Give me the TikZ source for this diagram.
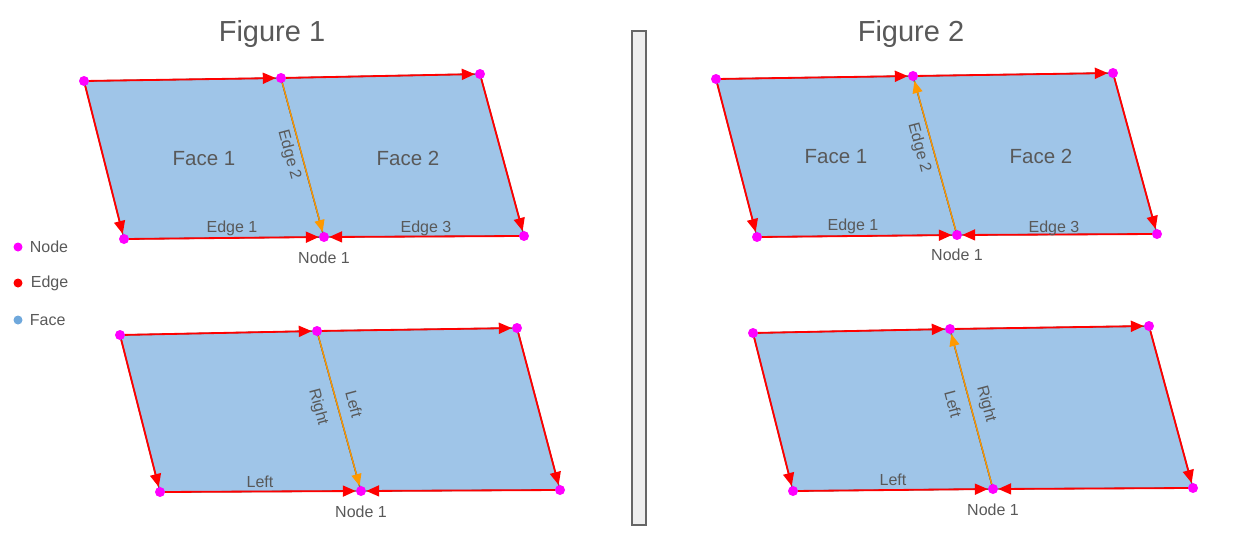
\documentclass[tikz,border=0pt]{standalone}
\usepackage{fontspec}
\setmainfont{Liberation Sans}
\usepackage{xcolor}
\usepackage{tikz}
\usetikzlibrary{arrows.meta,positioning}

\definecolor{facefill}{HTML}{9FC5E8}
\definecolor{faceline}{HTML}{5A5A5A}
\definecolor{textgrey}{HTML}{595959}
\definecolor{edgered}{HTML}{FF0000}
\definecolor{nodepink}{HTML}{FF00FF}
\definecolor{halfedge}{HTML}{FF9900}
\definecolor{keyblue}{HTML}{6FA8DC}
\definecolor{dividerfill}{HTML}{EEEEEE}
\definecolor{dividerline}{HTML}{666666}

\pgfdeclarelayer{bg}
\pgfsetlayers{bg,main}

\tikzset{
  vert/.style={circle,fill=nodepink,inner sep=0pt,minimum size=10pt},
  face/.style={fill=facefill,draw=faceline,line width=1.4pt,line join=round},
  redge/.style={color=edgered,line width=1.8pt,-{Triangle[length=13pt,width=11pt]}},
  hedge/.style={color=halfedge,line width=1.3pt,-{Triangle[length=12pt,width=10pt]}},
  lbl/.style={text=textgrey,font=\fontsize{16}{18}\selectfont,inner sep=1pt},
  facelbl/.style={text=textgrey,font=\fontsize{20.5}{24}\selectfont,inner sep=0pt},
  title/.style={text=textgrey,font=\fontsize{29}{34}\selectfont,inner sep=0pt},
  divider/.style={draw=dividerline,fill=dividerfill,line width=1.2pt,
    minimum width=14pt,minimum height=494pt,inner sep=0pt},
}

\begin{document}
\begin{tikzpicture}[x=1pt,y=-1pt]
\useasboundingbox (0,0) rectangle (1236,535);

% titles and divider
\node[title,anchor=base] (title 1) at (272,42) {Figure 1};
\node[title,anchor=base] (title 2) at (911,42) {Figure 2};
\node[divider] (divider) at (639,278) {};

% legend
\begin{scope}[every node/.style={circle,inner sep=0pt,minimum size=9pt}]
\node[fill=nodepink] (key node) at (18,247) {};
\node[fill=edgered] (key edge) at (18,283) {};
\node[fill=keyblue] (key face) at (18,320) {};
\end{scope}
\node[lbl,right=6pt of key node] {Node};
\node[lbl,right=7pt of key edge] {Edge};
\node[lbl,right=6pt of key face] {Face};

% Figure 1, top
\begin{scope}[every node/.style=vert]
\node (a tl) at (84,81) {};
\node (a tm) at (281,78) {};
\node (a tr) at (480,74) {};
\node (a bl) at (124,239) {};
\node (a bm) at (324,237) {};
\node (a br) at (524,236) {};
\end{scope}
\begin{pgfonlayer}{bg}
\path[face] (a tl.center) -- (a tm.center) -- (a bm.center) -- (a bl.center) -- cycle;
\path[face] (a tm.center) -- (a tr.center) -- (a br.center) -- (a bm.center) -- cycle;
\end{pgfonlayer}
\path [redge] (a tl) edge (a tm);
\path [redge] (a tm) edge (a tr);
\path [redge] (a tl) edge (a bl);
\path [redge] (a bl) edge (a bm);
\path [redge] (a tr) edge (a br);
\path [redge] (a br) edge (a bm);
\path [hedge] (a tm) edge (a bm);
\node[facelbl,anchor=base] at (204,165) {Face 1};
\node[facelbl,anchor=base] at (408,165) {Face 2};
\node[lbl,rotate=-75] at (289,155) {Edge 2};
\node[lbl,anchor=base] at (232,232) {Edge 1};
\node[lbl,anchor=base] at (426,232) {Edge 3};
\node[lbl,below=9pt of a bm] {Node 1};

% Figure 1, bottom
\begin{scope}[every node/.style=vert]
\node (b tl) at (120,335) {};
\node (b tm) at (317,331) {};
\node (b tr) at (517,328) {};
\node (b bl) at (160,492) {};
\node (b bm) at (361,491) {};
\node (b br) at (560,490) {};
\end{scope}
\begin{pgfonlayer}{bg}
\path[face] (b tl.center) -- (b tm.center) -- (b bm.center) -- (b bl.center) -- cycle;
\path[face] (b tm.center) -- (b tr.center) -- (b br.center) -- (b bm.center) -- cycle;
\end{pgfonlayer}
\path [redge] (b tl) edge (b tm);
\path [redge] (b tm) edge (b tr);
\path [redge] (b tl) edge (b bl);
\path [redge] (b bl) edge (b bm);
\path [redge] (b tr) edge (b br);
\path [redge] (b br) edge (b bm);
\path [hedge] (b tm) edge (b bm);
\node[lbl,rotate=-75] at (318,407) {Right};
\node[lbl,rotate=-75] at (354,404) {Left};
\node[lbl,anchor=base] at (260,487) {Left};
\node[lbl,below=8pt of b bm] {Node 1};

% Figure 2, top
\begin{scope}[every node/.style=vert]
\node (c tl) at (716,79) {};
\node (c tm) at (913,76) {};
\node (c tr) at (1113,73) {};
\node (c bl) at (757,237) {};
\node (c bm) at (957,235) {};
\node (c br) at (1157,234) {};
\end{scope}
\begin{pgfonlayer}{bg}
\path[face] (c tl.center) -- (c tm.center) -- (c bm.center) -- (c bl.center) -- cycle;
\path[face] (c tm.center) -- (c tr.center) -- (c br.center) -- (c bm.center) -- cycle;
\end{pgfonlayer}
\path [redge] (c tl) edge (c tm);
\path [redge] (c tm) edge (c tr);
\path [redge] (c tl) edge (c bl);
\path [redge] (c bl) edge (c bm);
\path [redge] (c tr) edge (c br);
\path [redge] (c br) edge (c bm);
\path [hedge] (c bm) edge (c tm);
\node[facelbl,anchor=base] at (836,163) {Face 1};
\node[facelbl,anchor=base] at (1041,163) {Face 2};
\node[lbl,rotate=-75] at (919,148) {Edge 2};
\node[lbl,anchor=base] at (853,230) {Edge 1};
\node[lbl,anchor=base] at (1054,232) {Edge 3};
\node[lbl,below=8pt of c bm] {Node 1};

% Figure 2, bottom
\begin{scope}[every node/.style=vert]
\node (d tl) at (753,333) {};
\node (d tm) at (950,329) {};
\node (d tr) at (1149,326) {};
\node (d bl) at (793,491) {};
\node (d bm) at (993,489) {};
\node (d br) at (1193,488) {};
\end{scope}
\begin{pgfonlayer}{bg}
\path[face] (d tl.center) -- (d tm.center) -- (d bm.center) -- (d bl.center) -- cycle;
\path[face] (d tm.center) -- (d tr.center) -- (d br.center) -- (d bm.center) -- cycle;
\end{pgfonlayer}
\path [redge] (d tl) edge (d tm);
\path [redge] (d tm) edge (d tr);
\path [redge] (d tl) edge (d bl);
\path [redge] (d bl) edge (d bm);
\path [redge] (d tr) edge (d br);
\path [redge] (d br) edge (d bm);
\path [hedge] (d bm) edge (d tm);
\node[lbl,rotate=-75] at (953,404) {Left};
\node[lbl,rotate=-75] at (986,404) {Right};
\node[lbl,anchor=base] at (893,485) {Left};
\node[lbl,below=8pt of d bm] {Node 1};

\end{tikzpicture}
\end{document}
